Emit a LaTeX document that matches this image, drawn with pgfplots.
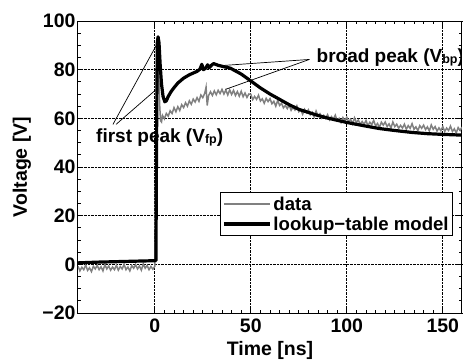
\documentclass[border=0pt]{standalone}
\usepackage{pgfplots}
\pgfplotsset{compat=1.18}
\usepackage{fontspec}
\setmainfont{Liberation Sans}
\definecolor{datagray}{RGB}{128,128,128}
\newcommand{\bigf}{\bfseries\fontsize{19.5}{21}\selectfont}
\newcommand{\legf}{\bfseries\fontsize{18.6}{20}\selectfont}
\newcommand{\annf}{\bfseries\fontsize{19}{21}\selectfont}
\newcommand{\subt}[1]{{\fontsize{12.5}{12.5}\selectfont\raisebox{-1.5pt}{#1}}}
\begin{document}
\begin{tikzpicture}
\begin{axis}[
  scale only axis, width=384pt, height=292pt,
  xmin=-40, xmax=160, ymin=-20, ymax=100,
  xtick={0,50,100,150}, xticklabels={0,50,100,150},
  ytick={-20,0,20,40,60,80,100}, yticklabels={−20,0,20,40,60,80,100},
  minor x tick num=9, minor y tick num=3,
  tick align=inside, tick pos=both,
  major tick length=5pt, minor tick length=3pt,
  axis line style={line width=1pt}, every tick/.style={black, line width=0.8pt},
  grid=major, major grid style={densely dotted, black, line width=0.6pt},
  ticklabel style={font=\bigf},
  xticklabel style={yshift=-2pt},
  yticklabel style={xshift=1pt},
  xlabel={Time [ns]}, ylabel={Voltage [V]},
  label style={font=\bigf},
  xlabel style={at={(axis description cs:0.5,-0.127)}, anchor=center},
  ylabel style={at={(axis description cs:-0.146,0.5)}, anchor=center},
  legend style={font=\legf, at={(0.977,0.414)}, anchor=north east, draw=black, line width=1pt, inner xsep=2pt, inner ysep=2pt, row sep=1pt},
  legend cell align=left,
  legend image code/.code={\draw[#1] (0pt,0pt) -- (46pt,0pt);},
]
\addplot[datagray, line width=1.5pt] coordinates {
(-40,-0.7)(-39,-2.7)(-38,-1.2)(-37,-2.2)(-36,-0.3)(-35,-2.5)(-34,-1.4)(-33,-3.0)(-32,-0.8)(-31,-1.9)
(-30,-0.4)(-29,-2.2)(-28,-1.0)(-27,-2.7)(-26,-0.1)(-25,-1.9)(-24,-0.7)(-23,-2.4)(-22,-1.1)(-21,-2.2)
(-20,-0.4)(-19,-2.4)(-18,-0.9)(-17,-1.9)(-16,0.0)(-15,-2.2)(-14,-1.1)(-13,-2.7)(-12,-0.5)(-11,-1.6)
(-10,-0.1)(-9,-1.9)(-8,-0.7)(-7,-2.4)(-6,0.2)(-5,-1.6)(-4,-0.5)(-3,-2.2)(-2,-0.9)(-1,-2.0)(0,-0.8)
(0.5,45)(1.0,86)(1.5,89)(2.0,80)(2.5,66)(3,59)(3.5,58.5)(4,61.2)(5,59.8)(6,62.0)(7,60.9)(8,63.1)(9,62.0)
(10,64.4)(11,62.7)(12,64.8)(13,63.2)(14,65.6)(15,64.4)(16,66.4)(17,65.0)(18,67.2)(19,65.8)
(20,67.9)(21,66.7)(22,68.5)(23,67.0)(24,69.6)(25,68.5)(26,70.3)(26.7,72.8)(27.3,65.3)(28,69.3)(29,70.9)
(30,69.4)(31,71.3)(32,69.7)(33,71.5)(34,70.2)(35,71.9)(36,70.0)(37,71.6)(38,69.6)(39,71.7)
(40,69.8)(41,71.5)(42,69.4)(43,71.0)(44,69.1)(45,71.1)(46,68.9)(47,70.4)(48,68.6)(49,70.0)
(50,69.9)(51,67.7)(52,69.0)(53,67.8)(54,69.5)(55,67.1)(56,68.0)(57,66.2)(58,68.2)(59,66.9)
(60,68.1)(61,66.0)(62,67.0)(63,65.0)(64,67.4)(65,65.3)(66,66.2)(67,64.3)(68,65.3)(69,64.0)
(70,65.5)(71,63.3)(72,64.6)(73,63.4)(74,65.1)(75,62.7)(76,63.6)(77,61.7)(78,63.7)(79,62.3)
(80,63.5)(81,61.5)(82,62.5)(83,60.6)(84,63.0)(85,61.0)(86,61.9)(87,60.1)(88,61.2)(89,60.0)
(90,61.5)(91,59.4)(92,60.7)(93,59.6)(94,61.3)(95,59.0)(96,60.0)(97,58.3)(98,60.3)(99,59.1)
(100,60.4)(101,58.5)(102,59.6)(103,57.7)(104,60.2)(105,58.3)(106,59.3)(107,57.5)(108,58.7)(109,57.5)
(110,59.1)(111,57.0)(112,58.4)(113,57.4)(114,59.2)(115,56.9)(116,57.9)(117,56.2)(118,58.4)(119,57.2)
(120,58.5)(121,56.6)(122,57.7)(123,56.0)(124,58.5)(125,56.6)(126,57.6)(127,55.9)(128,57.1)(129,56.0)
(130,57.6)(131,55.5)(132,57.0)(133,55.9)(134,57.8)(135,55.5)(136,56.5)(137,54.9)(138,57.0)(139,55.9)
(140,57.2)(141,55.4)(142,56.5)(143,54.8)(144,57.3)(145,55.5)(146,56.6)(147,54.8)(148,56.1)(149,54.9)
(150,56.6)(151,54.6)(152,56.0)(153,55.0)(154,56.8)(155,54.6)(156,55.7)(157,54.0)(158,56.2)(159,55.0)(160,56.4)
};
\addlegendentry{data}
\addplot[black, line width=3.2pt, line join=round] coordinates {
(-40,0.6)(-30,0.9)(-20,1.1)(-10,1.3)(0,1.5)(0.6,1.6)(0.9,50)(1.3,91)(1.7,93.5)(2.2,91)(2.8,82)
(3.5,74)(4.3,69)(5.2,66.8)(6,67.2)(7,69)(8.5,71)(10,72.6)(12,74.5)(15,76.5)(18,77.9)(20,78.6)
(22,79.3)(23.5,80.2)(24.5,82.2)(25.3,80.0)(26.5,80.6)(27.5,82.0)(28.3,80.8)(29.5,81.8)(30.6,82.5)
(33,81.8)(36,81.2)(39.4,80.6)(45,78.2)(50.3,75.2)(55,72.5)(60,70)(65,67.8)(70,65.6)(75,63.7)
(84.5,61.3)(90,60.1)(100,58.3)(110,56.8)(117,55.8)(125,55)(134,54.2)(142,53.7)(150,53.4)(160,53.1)
};
\addlegendentry{lookup−table model}
\draw[black, line width=0.7pt] (axis cs:-21.8,57.5) -- (axis cs:1.0,90.3);
\draw[black, line width=0.7pt] (axis cs:-20.2,57.5) -- (axis cs:0.2,71.5);
\node[anchor=base west, inner sep=0pt, font=\annf] at (axis cs:-30.6,50.1) {first peak (V\subt{fp})};
\draw[black, line width=0.7pt] (axis cs:80.5,84.2) -- (axis cs:35.2,81.7);
\draw[black, line width=0.7pt] (axis cs:80.5,84.2) -- (axis cs:36.8,71.9);
\node[anchor=base west, inner sep=0pt, font=\annf] at (axis cs:84.2,83.0) {broad peak (V\subt{bp})};
\end{axis}
\pgfresetboundingbox
\path[use as bounding box] (-78pt,-47pt) rectangle (389pt,313pt);
\end{tikzpicture}
\end{document}
